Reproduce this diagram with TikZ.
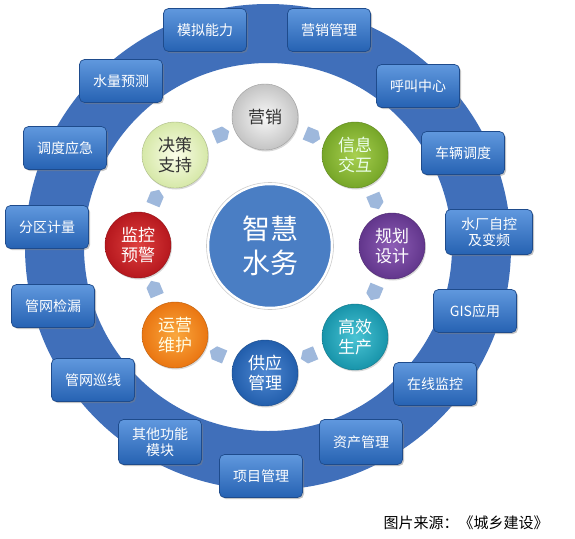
\documentclass[tikz,border=0pt]{standalone}
\usepackage{fontspec}
\setmainfont{Noto Sans CJK SC}
\usetikzlibrary{shadows,shapes.symbols}
\definecolor{ringblue}{RGB}{64,111,186}
\definecolor{boxtop}{RGB}{96,152,222}
\definecolor{boxbot}{RGB}{38,98,178}
\definecolor{boxedge}{RGB}{30,75,140}
\definecolor{hubblue}{RGB}{74,126,196}
\definecolor{arrowblue}{RGB}{158,184,220}
\definecolor{gA}{RGB}{196,196,196}\definecolor{gAi}{RGB}{248,248,248}
\definecolor{gB}{RGB}{118,166,40}\definecolor{gBi}{RGB}{168,208,80}
\definecolor{gC}{RGB}{98,54,140}\definecolor{gCi}{RGB}{142,94,182}
\definecolor{gD}{RGB}{24,148,170}\definecolor{gDi}{RGB}{74,196,212}
\definecolor{gE}{RGB}{34,94,172}\definecolor{gEi}{RGB}{78,136,210}
\definecolor{gF}{RGB}{234,118,18}\definecolor{gFi}{RGB}{250,168,62}
\definecolor{gG}{RGB}{182,24,30}\definecolor{gGi}{RGB}{222,64,62}
\definecolor{gH}{RGB}{214,232,168}\definecolor{gHi}{RGB}{250,253,232}
\tikzset{
  modbox/.style={rectangle, rounded corners=5pt, minimum width=83pt, minimum height=43pt,
    top color=boxtop, bottom color=boxbot, draw=boxedge, line width=0.7pt,
    drop shadow={shadow xshift=1.5pt, shadow yshift=-1.5pt, opacity=0.45},
    text=white, align=center, inner sep=1pt,
    font=\fontsize{14}{16.5}\selectfont},
  ball/.style n args={3}{circle, minimum size=66pt, inner sep=0pt, align=center,
    inner color=#2, outer color=#1, draw=#1!80!black, line width=0.4pt,
    drop shadow={shadow xshift=1pt, shadow yshift=-1.5pt, opacity=0.3},
    text=#3, font=\fontsize{17}{20}\selectfont},
  flowarrow/.style={signal, signal to=east, signal pointer angle=110, fill=arrowblue, draw=none,
    minimum width=16pt, minimum height=14pt, inner sep=0pt},
}
\begin{document}
\begin{tikzpicture}[x=1pt,y=-1pt]
\useasboundingbox[fill=white] (0,0) rectangle (575,538);
% ring
\fill[ringblue, even odd rule] (268,247) circle (243pt) (268,247) circle (184pt);
% hub
\node[circle, minimum size=124pt, fill=hubblue, draw=white, line width=2.5pt,
  text=white, align=center, font=\fontsize{28}{34}\selectfont] (hub) at (270,246) {智慧\\水务};
\draw[gray!40, line width=0.6pt] (hub.center) circle (63.5pt);
% inner balls
\node[ball={gA}{gAi}{black!80}] (yx) at (265,117) {营销};
\node[ball={gB}{gBi}{white!92!green}] (xx) at (355,155) {信息\\交互};
\node[ball={gC}{gCi}{white}] (gh) at (392,246) {规划\\设计};
\node[ball={gD}{gDi}{white}] (gx) at (355,337) {高效\\生产};
\node[ball={gE}{gEi}{white}] (gy) at (265,373) {供应\\管理};
\node[ball={gF}{gFi}{white!90!yellow}] (yy) at (175,335) {运营\\维护};
\node[ball={gG}{gGi}{white}] (jk) at (138,245) {监控\\预警};
\node[ball={gH}{gHi}{black!80}] (jc) at (175,155) {决策\\支持};
% flow arrows
\node[flowarrow, rotate=22.5] (a1) at (219.5,135.1) {};
\node[flowarrow, rotate=-22.5] (a2) at (310.5,135.1) {};
\node[flowarrow, rotate=-67.5] (a3) at (374.9,199.5) {};
\node[flowarrow, rotate=-112.5] (a4) at (374.9,290.5) {};
\node[flowarrow, rotate=-157.5] (a5) at (310.5,354.9) {};
\node[flowarrow, rotate=157.5] (a6) at (219.5,354.9) {};
\node[flowarrow, rotate=112.5] (a7) at (155.1,290.5) {};
\node[flowarrow, rotate=67.5] (a8) at (155.1,199.5) {};
% module boxes
\node[modbox] (b1) at (205,30) {模拟能力};
\node[modbox] (b2) at (329,30) {营销管理};
\node[modbox] (b3) at (121,81) {水量预测};
\node[modbox] (b4) at (418,86) {呼叫中心};
\node[modbox] (b5) at (65,148) {调度应急};
\node[modbox] (b6) at (463,153) {车辆调度};
\node[modbox] (b7) at (47,227) {分区计量};
\node[modbox, minimum width=87pt, minimum height=45pt] (b8) at (489,232) {水厂自控\\及变频};
\node[modbox] (b9) at (53,306) {管网检漏};
\node[modbox] (b10) at (475,311) {GIS应用};
\node[modbox] (b11) at (93,380) {管网巡线};
\node[modbox] (b12) at (435,384) {在线监控};
\node[modbox, minimum height=45pt] (b13) at (160,442) {其他功能\\模块};
\node[modbox, minimum height=45pt] (b14) at (361,442) {资产管理};
\node[modbox] (b15) at (261,476) {项目管理};
% caption
\node[font=\fontsize{15}{18}\selectfont, text=black] (cap) at (466,523) {图片来源：《城乡建设》};
\end{tikzpicture}
\end{document}
